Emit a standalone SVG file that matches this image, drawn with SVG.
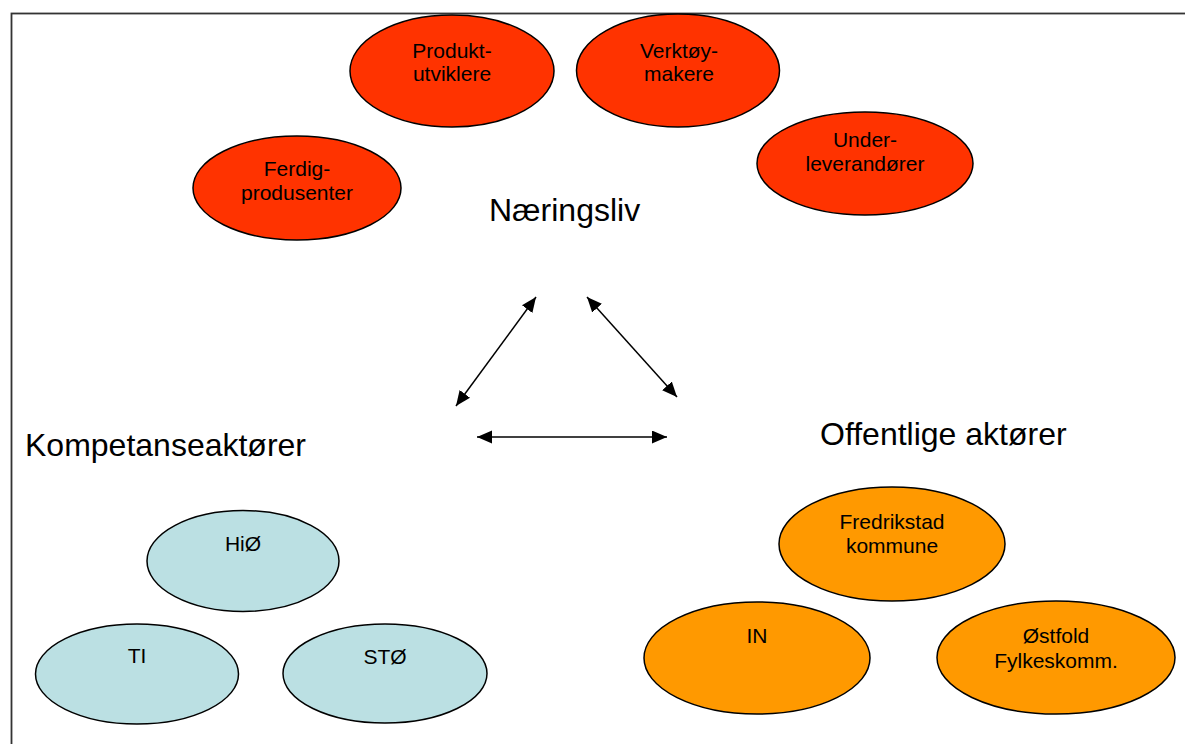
<svg xmlns="http://www.w3.org/2000/svg" width="1185" height="744" viewBox="0 0 1185 744">
<style>
.e{stroke:#000;stroke-width:1.5}
.r{fill:#FF3300}
.b{fill:#BBE0E3}
.o{fill:#FF9900}
.t{font-family:"Liberation Sans",Arial,sans-serif;font-size:21px;fill:#000;text-anchor:middle}
.h{font-family:"Liberation Sans",Arial,sans-serif;font-size:32px;fill:#000}
.c{stroke:#000;stroke-width:1.5;fill:none;marker-start:url(#ah);marker-end:url(#ah)}
</style>
<defs>
<marker id="ah" markerUnits="userSpaceOnUse" markerWidth="16" markerHeight="14" refX="15" refY="6.5" orient="auto-start-reverse" viewBox="0 0 16 14">
<path d="M0,0 L15,6.5 L0,13 z" fill="#000"/>
</marker>
</defs>
<rect x="0" y="0" width="1185" height="744" fill="#fff"/>
<rect x="11.5" y="13.5" width="1200" height="800" fill="none" stroke="#333" stroke-width="1.8"/>

<g id="produktutviklere">
<ellipse class="e r" cx="452" cy="71" rx="102" ry="56"/>
<text class="t" x="452" y="58">Produkt-</text>
<text class="t" x="452" y="81">utviklere</text>
</g>
<g id="verktoymakere">
<ellipse class="e r" cx="678" cy="70.5" rx="101.5" ry="56.5"/>
<text class="t" x="679" y="58">Verktøy-</text>
<text class="t" x="679" y="81">makere</text>
</g>
<g id="underleverandorer">
<ellipse class="e r" cx="865" cy="163.5" rx="108" ry="51.5"/>
<text class="t" x="865" y="147">Under-</text>
<text class="t" x="865" y="171">leverandører</text>
</g>
<g id="ferdigprodusenter">
<ellipse class="e r" cx="297" cy="188" rx="104" ry="52"/>
<text class="t" x="297" y="176">Ferdig-</text>
<text class="t" x="297" y="200">produsenter</text>
</g>

<g id="naeringsliv"><text class="h" x="489" y="221">Næringsliv</text></g>
<g id="kompetanseaktorer"><text class="h" x="25" y="456">Kompetanseaktører</text></g>
<g id="offentlige"><text class="h" x="820" y="445">Offentlige aktører</text></g>

<g id="hio">
<ellipse class="e b" cx="243" cy="561" rx="96" ry="50.5"/>
<text class="t" x="243" y="551">HiØ</text>
</g>
<g id="ti">
<ellipse class="e b" cx="137" cy="674" rx="101.5" ry="50"/>
<text class="t" x="137" y="663">TI</text>
</g>
<g id="sto">
<ellipse class="e b" cx="385" cy="673.5" rx="102" ry="49.5"/>
<text class="t" x="385" y="664">STØ</text>
</g>

<g id="fredrikstad">
<ellipse class="e o" cx="892" cy="544" rx="113" ry="57"/>
<text class="t" x="892" y="529">Fredrikstad</text>
<text class="t" x="892" y="553">kommune</text>
</g>
<g id="in">
<ellipse class="e o" cx="757" cy="658" rx="113" ry="56"/>
<text class="t" x="757" y="643">IN</text>
</g>
<g id="ostfold">
<ellipse class="e o" cx="1056" cy="657.5" rx="119" ry="56.5"/>
<text class="t" x="1056" y="643">Østfold</text>
<text class="t" x="1056" y="668">Fylkeskomm.</text>
</g>

<g id="connectors">
<line class="c" x1="456" y1="406" x2="536" y2="297"/>
<line class="c" x1="587" y1="297" x2="677" y2="397"/>
<line class="c" x1="477" y1="437" x2="667" y2="437"/>
</g>
</svg>
